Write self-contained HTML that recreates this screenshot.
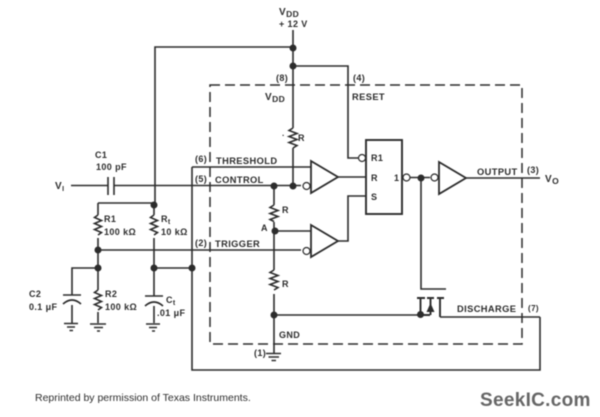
<!DOCTYPE html>
<html><head><meta charset="utf-8"><style>
html,body{margin:0;padding:0;background:#fff;width:600px;height:417px;overflow:hidden}
svg{display:block;filter:blur(.4px)}
text{font-family:"Liberation Sans",sans-serif;font-size:9px;font-weight:bold;fill:#2c2c2c;letter-spacing:.4px}
.l{font-size:9.300px}
.w{fill:none;stroke:#2c2c2c;stroke-width:1.6}
.t{fill:#fff;stroke:#2c2c2c;stroke-width:1.8}
.b{fill:none;stroke:#2c2c2c;stroke-width:1.9}
.c{fill:#fff;stroke:#2c2c2c;stroke-width:1.2}
.d{fill:#2c2c2c}
</style></head><body>
<svg width="600" height="417" viewBox="0 0 600 417" xmlns="http://www.w3.org/2000/svg">
<rect x="210" y="85" width="312" height="259" fill="none" stroke="#2c2c2c" stroke-width="1.5" stroke-dasharray="10 5"/>
<path class="w" d="M293 30V128M293 148V186M155 205V47H293M293 66H348V158H358"/>
<path class="w" d="M293 128l-4 2.500 8 3-8 3 8 3-8 3 8 3-4 2.500"/>
<path class="w" d="M71 185.500H108M114 185.500H301M108 177V195M114 177V195"/>
<path class="w" d="M540 317H440M192 167H311M192 167V370H540V317"/>
<path class="w" d="M98 250H301M98 203H154V215M98 203V215M98 238V290M98 312V323M72 295V268H98M72 305V323M154 215V205M154 238V296M154 306V323M154 268H192"/>
<path class="w" d="M98 215l-3.500 2.500 7 3-7 3 7 3-7 3 7 3-3.500 2.500"/>
<path class="w" d="M98 290l-3.500 2.500 7 3-7 3 7 3-7 3 7 3-3.500 2.500"/>
<path class="w" d="M154 215l-3.500 2.500 7 3-7 3 7 3-7 3 7 3-3.500 2.500"/>
<path class="w" d="M63 295H81M63 304Q72 296 81 304M145 296H163M145 306Q154 298 163 306"/>
<path class="w" d="M64 323.500H78M67 327H75M69.500 330.500H73M90 324H106M94 327.500H103M97 331H100M146 324H160M149 327.500H157M152 331H155"/>
<path class="w" d="M274 186V205M274 222V270M274 231H311M274 294V354"/>
<path class="w" d="M274 205l-4 2.500 8 3-8 3 8 3-8 3 4 2"/>
<path class="w" d="M274 270l-4 2.500 8 3-8 3 8 3-8 3 8 3-4 2.500"/>
<path class="w" d="M266 353.500H281M268.500 357H279M271.500 360.500H276"/>
<path class="w" d="M338 177H366M338 241H348V196H366M466 178H540M402 177.500H430M421 178V289H446"/>
<path class="w" d="M274 315H420"/>
<path class="b" d="M417 298H425M427 298H434M437 298H444M420.500 298V315M430.500 298V315M440 298V317M420 315H430"/>
<path class="d" d="M430.500 303l-4 9h8z"/>
<rect class="b" x="366" y="140" width="36" height="74" fill="#fff"/>
<path class="t" d="M311 161L338 177L311 193Z"/>
<path class="t" d="M311 225L338 241L311 257Z"/>
<path class="t" d="M439 162L466 178L439 194Z"/>
<circle class="c" cx="362" cy="158" r="3.500"/><circle class="c" cx="306.500" cy="186" r="3.500"/><circle class="c" cx="306.500" cy="251" r="3.500"/><circle class="c" cx="406.500" cy="177.500" r="3.500"/><circle class="c" cx="434.500" cy="177.500" r="3.500"/>
<g class="d"><circle cx="293" cy="48" r="3.500"/><circle cx="293" cy="66" r="3.500"/><circle cx="293" cy="186" r="3.500"/><circle cx="274" cy="186" r="3.500"/><circle cx="154" cy="205" r="3.500"/><circle cx="275" cy="231" r="3.500"/><circle cx="98" cy="250" r="3.500"/><circle cx="98" cy="268" r="3.500"/><circle cx="154" cy="268" r="3.500"/><circle cx="192" cy="268" r="3.500"/><circle cx="274" cy="315" r="3.500"/><circle cx="421" cy="178" r="3.500"/><circle cx="420.500" cy="314.500" r="3.500"/></g>
<text x="279" y="15" style="font-size:10px">V<tspan dy="2" style="font-size:8.500px">DD</tspan></text>
<text x="279" y="27">+ 12 V</text>
<text x="276" y="81">(8)</text>
<text x="265" y="100" style="font-size:10px">V<tspan dy="2" style="font-size:8.500px">DD</tspan></text>
<text x="353" y="81">(4)</text>
<text x="352" y="100" class="l">RESET</text>
<text x="282" y="138" style="font-size:8px">&#183;</text>
<text x="298" y="141">R</text>
<text x="95" y="158">C1</text>
<text x="96" y="170">100 pF</text>
<text x="55" y="189" style="font-size:10px">V<tspan dy="2" style="font-size:7px">I</tspan></text>
<text x="195" y="162">(6)</text>
<text x="216" y="164" class="l">THRESHOLD</text>
<text x="195" y="182">(5)</text>
<text x="215" y="183" class="l">CONTROL</text>
<text x="371" y="161">R1</text>
<text x="371" y="181">R</text>
<text x="371" y="200">S</text>
<text x="394" y="181">1</text>
<text x="477" y="175" class="l">OUTPUT</text>
<text x="527" y="173">(3)</text>
<text x="545" y="182" style="font-size:10px">V<tspan dy="2" style="font-size:8.500px">O</tspan></text>
<text x="282" y="213">R</text>
<text x="261" y="231">A</text>
<text x="104" y="222">R1</text>
<text x="104" y="235">100 k&#937;</text>
<text x="161" y="222">R<tspan dy="2" style="font-size:7px">t</tspan></text>
<text x="161" y="235">10 k&#937;</text>
<text x="195" y="246">(2)</text>
<text x="215" y="247" class="l">TRIGGER</text>
<text x="282" y="287">R</text>
<text x="29" y="297">C2</text>
<text x="29" y="310">0.1 &#956;F</text>
<text x="105" y="297">R2</text>
<text x="105" y="310">100 k&#937;</text>
<text x="166" y="303">C<tspan dy="2" style="font-size:7px">t</tspan></text>
<text x="157" y="316">.01 &#956;F</text>
<text x="279" y="338">GND</text>
<text x="254" y="356">(1)</text>
<text x="457" y="312" class="l">DISCHARGE</text>
<text x="528" y="311" style="font-size:8px">(7)</text>
<text x="35" y="401" style="font-weight:normal;letter-spacing:0;font-size:10.500px">Reprinted by permission of Texas Instruments.</text>
<text x="480" y="406" style="font-size:19px;fill:#666;letter-spacing:.3px">SeekIC.com</text>
</svg>
</body></html>
